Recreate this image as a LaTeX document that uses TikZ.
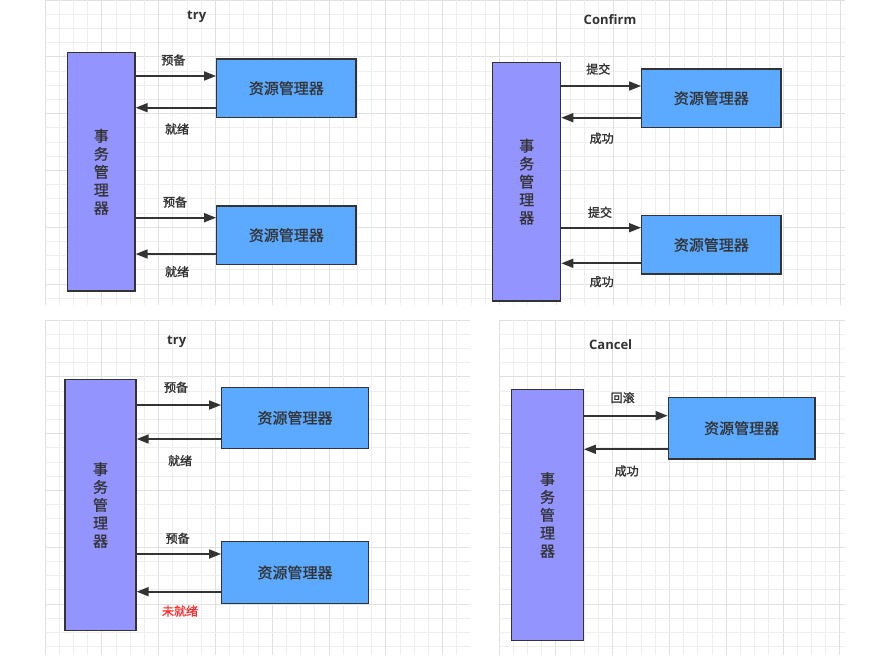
\documentclass[tikz,border=0pt]{standalone}
\usepackage{fontspec}
\setmainfont{Noto Sans CJK SC}
\newfontfamily\lab{Noto Sans CJK SC}[AutoFakeBold=1.6]
\newfontfamily\midfont{Noto Sans CJK SC}[AutoFakeBold=0.8]
\newfontfamily\ttl{Open Sans}
\usetikzlibrary{arrows.meta}
\definecolor{tmfill}{HTML}{9494FF}
\definecolor{rmfill}{HTML}{5CAAFF}
\definecolor{edge}{HTML}{333333}
\definecolor{txt}{HTML}{333333}
\definecolor{warn}{HTML}{FF3333}
\definecolor{gminor}{HTML}{EEEEEE}
\definecolor{gmajor}{HTML}{E0E0E0}
\tikzset{
  tmbox/.style={draw=edge,fill=tmfill,line width=1.3pt,inner sep=0pt},
  rmbox/.style={draw=edge,fill=rmfill,line width=1.3pt,inner sep=0pt,
    font=\midfont\bfseries\fontsize{15}{17}\selectfont,text=txt},
  conn/.style={draw=edge,line width=1.7pt,-{Triangle[length=12pt,width=9pt]}},
  lbl/.style={font=\lab\bfseries\fontsize{12}{14}\selectfont,text=txt,inner sep=0pt},
  ttlstyle/.style={font=\ttl\bfseries\fontsize{13}{15}\selectfont,text=txt,inner sep=0pt},
  vtext/.style={font=\midfont\bfseries\fontsize{15}{18}\selectfont,text=txt,align=center}
}
\newcommand{\panelgrid}[4]{%
  \pgfmathsetmacro{\gw}{#3-#1}\pgfmathsetmacro{\gh}{#4-#2}%
  \begin{scope}[shift={(#1,#2)}]
    \foreach \k in {0,1,...,60}{
      \pgfmathsetmacro{\gx}{\k*14.2}
      \pgfmathtruncatemacro{\mm}{mod(\k,4)}
      \ifdim\gx pt<\gw pt
        \ifnum\mm=0 \draw[gmajor,line width=0.9pt] (\gx,0) -- (\gx,\gh);
        \else \draw[gminor,line width=0.7pt] (\gx,0) -- (\gx,\gh); \fi
      \fi
      \ifdim\gx pt<\gh pt
        \ifnum\mm=0 \draw[gmajor,line width=0.9pt] (0,\gx) -- (\gw,\gx);
        \else \draw[gminor,line width=0.7pt] (0,\gx) -- (\gw,\gx); \fi
      \fi
    }
  \end{scope}}
\begin{document}
\begin{tikzpicture}[x=1pt,y=-1pt]
\useasboundingbox (0,0) rectangle (882,655);
\fill[white] (0,0) rectangle (882,655);
% grids
\panelgrid{45}{0}{845}{305}
\panelgrid{45}{320}{470}{655}
\panelgrid{499}{320}{845}{655}

% ---------------- top-left: try
\node[ttlstyle] (t1) at (196.7,16.7) {try};
\node[tmbox,minimum width=67.3pt,minimum height=238.3pt] (tm1) at (101.35,171.85) {};
\node[vtext] at (tm1.center) {事\\务\\管\\理\\器};
\node[rmbox,minimum width=139.3pt,minimum height=58.3pt] (ra1) at (286.35,88.15) {资源管理器};
\node[rmbox,minimum width=139.3pt,minimum height=58.3pt] (ra2) at (286.35,235.15) {资源管理器};
\coordinate (a1o) at (tm1.east |- 0,76);
\coordinate (a1i) at (tm1.east |- 0,107.7);
\coordinate (a2o) at (tm1.east |- 0,217.7);
\coordinate (a2i) at (tm1.east |- 0,254);
\draw[conn] (a1o) -- (ra1.west |- a1o);
\draw[conn] (ra1.west |- a1i) -- (a1i);
\draw[conn] (a2o) -- (ra2.west |- a2o);
\draw[conn] (ra2.west |- a2i) -- (a2i);
\node[lbl] (l1) at (173.3,60) {预备};
\node[lbl] (l2) at (177,129) {就绪};
\node[lbl] (l3) at (175,202) {预备};
\node[lbl] (l4) at (177,271.7) {就绪};

% ---------------- top-right: Confirm
\node[ttlstyle] (t2) at (610,19.3) {Confirm};
\node[tmbox,minimum width=68pt,minimum height=238.7pt] (tm2) at (526.7,181.65) {};
\node[vtext] at (tm2.center) {事\\务\\管\\理\\器};
\node[rmbox,minimum width=139.3pt,minimum height=58.3pt] (rb1) at (711.35,98.15) {资源管理器};
\node[rmbox,minimum width=139.3pt,minimum height=58.3pt] (rb2) at (711.35,244.85) {资源管理器};
\coordinate (b1o) at (tm2.east |- 0,86);
\coordinate (b1i) at (tm2.east |- 0,117.7);
\coordinate (b2o) at (tm2.east |- 0,227.7);
\coordinate (b2i) at (tm2.east |- 0,263.3);
\draw[conn] (b1o) -- (rb1.west |- b1o);
\draw[conn] (rb1.west |- b1i) -- (b1i);
\draw[conn] (b2o) -- (rb2.west |- b2o);
\draw[conn] (rb2.west |- b2i) -- (b2i);
\node[lbl] (m1) at (598.3,69) {提交};
\node[lbl] (m2) at (601.7,138.3) {成功};
\node[lbl] (m3) at (600,212.3) {提交};
\node[lbl] (m4) at (601.7,281.7) {成功};

% ---------------- bottom-left: try
\node[ttlstyle] (t3) at (176.7,341.7) {try};
\node[tmbox,minimum width=71pt,minimum height=251.4pt] (tm3) at (100.5,505) {};
\node[vtext] at (tm3.center) {事\\务\\管\\理\\器};
\node[rmbox,minimum width=146.6pt,minimum height=61pt] (rc1) at (295,417.8) {资源管理器};
\node[rmbox,minimum width=146.6pt,minimum height=61.6pt] (rc2) at (295,572.5) {资源管理器};
\coordinate (c1o) at (tm3.east |- 0,405);
\coordinate (c1i) at (tm3.east |- 0,439);
\coordinate (c2o) at (tm3.east |- 0,554);
\coordinate (c2i) at (tm3.east |- 0,591.7);
\draw[conn] (c1o) -- (rc1.west |- c1o);
\draw[conn] (rc1.west |- c1i) -- (c1i);
\draw[conn] (c2o) -- (rc2.west |- c2o);
\draw[conn] (rc2.west |- c2i) -- (c2i);
\node[lbl] (n1) at (176,387.3) {预备};
\node[lbl] (n2) at (180,460.7) {就绪};
\node[lbl] (n3) at (177.7,538.3) {预备};
\node[lbl,text=warn] (n4) at (180,611) {未就绪};

% ---------------- bottom-right: Cancel
\node[ttlstyle] (t4) at (610.7,344.3) {Cancel};
\node[tmbox,minimum width=71.6pt,minimum height=251.4pt] (tm4) at (547.5,515) {};
\node[vtext] at (tm4.center) {事\\务\\管\\理\\器};
\node[rmbox,minimum width=146.7pt,minimum height=61.7pt] (rd1) at (741.65,428.15) {资源管理器};
\coordinate (d1o) at (tm4.east |- 0,415.7);
\coordinate (d1i) at (tm4.east |- 0,449.3);
\draw[conn] (d1o) -- (rd1.west |- d1o);
\draw[conn] (rd1.west |- d1i) -- (d1i);
\node[lbl] (o1) at (622.7,397.7) {回滚};
\node[lbl] (o2) at (626.7,471) {成功};
\end{tikzpicture}
\end{document}
